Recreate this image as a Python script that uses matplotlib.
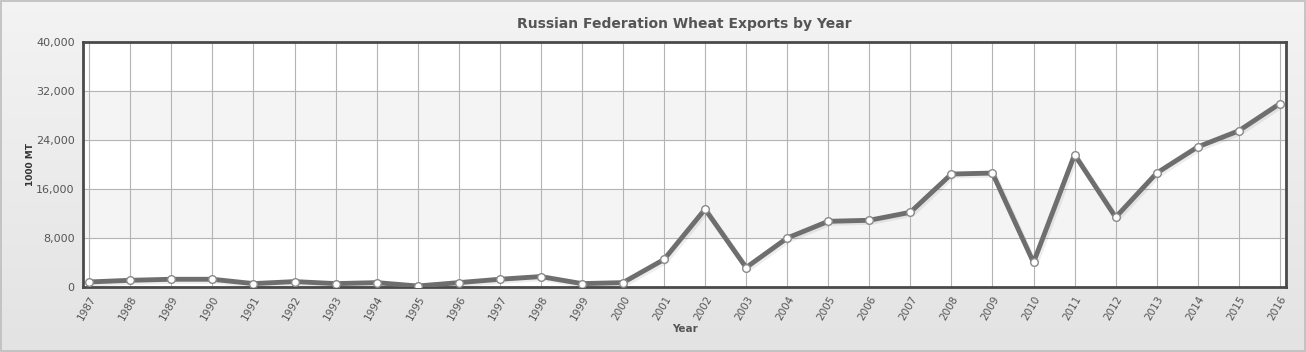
import numpy as np
import matplotlib
matplotlib.use("Agg")
import matplotlib.pyplot as plt
import matplotlib.patheffects as pe
from matplotlib.ticker import FuncFormatter

years = list(range(1987, 2017))
exports = [820, 1090, 1260, 1260, 550, 880, 550, 710, 160, 710,
           1260, 1700, 550, 710, 4490, 12700, 3170, 7990, 10720, 10890,
           12200, 18440, 18600, 4000, 21610, 11380, 18600, 22870, 25500, 29930]
y_ticks = [0, 8000, 16000, 24000, 32000, 40000]

fig = plt.figure(figsize=(13.06, 3.52), dpi=100)

# background gradient
bg = fig.add_axes([0, 0, 1, 1], zorder=-10)
grad = np.linspace(0.955, 0.89, 256).reshape(-1, 1)
bg.imshow(np.dstack([grad, grad, grad]), aspect="auto", extent=[0, 1, 0, 1])
bg.add_patch(plt.Rectangle((0.001, 0.002), 0.998, 0.995, fill=False,
                           edgecolor="#bdbdbd", linewidth=1.2))
bg.set_axis_off()

ax = fig.add_axes([0.0636, 0.1847, 0.9211, 0.696])
ax.set_facecolor("white")
ax.set_xlim(years[0] - 0.15, years[-1] + 0.15)
ax.set_ylim(0, 40000)

# alternating bands
for i in range(len(y_ticks) - 1):
    if i % 2 == 1:
        ax.axhspan(y_ticks[i], y_ticks[i + 1], color="#f4f4f4", zorder=0)

ax.set_xticks(years)
ax.set_yticks(y_ticks)
ax.grid(True, color="#b4b4b4", linewidth=0.8, zorder=1)
ax.set_axisbelow(True)

ax.plot(years, exports, color="#6e6e6e", linewidth=3.5, zorder=3,
        solid_joinstyle="round",
        path_effects=[pe.SimpleLineShadow(offset=(1.5, -1.5), shadow_color="#000000", alpha=0.07),
                      pe.Normal()])
ax.plot(years, exports, linestyle="none", marker="o", markersize=5.5,
        markerfacecolor="white", markeredgecolor="#8a8a8a", markeredgewidth=1, zorder=4)

for s in ax.spines.values():
    s.set_color("#4a4a4a")
    s.set_linewidth(2)

ax.yaxis.set_major_formatter(FuncFormatter(lambda v, p: f"{int(v):,}"))
ax.tick_params(axis="both", length=0, colors="#555555")
ax.tick_params(axis="y", pad=6, labelsize=8)
ax.tick_params(axis="x", pad=5, labelsize=7.5)
plt.setp(ax.get_xticklabels(), rotation=60, ha="right", va="top", rotation_mode="anchor")

ax.set_title("Russian Federation Wheat Exports by Year", fontsize=10, fontweight="bold",
             color="#555555", pad=10)
ax.set_xlabel("Year", fontsize=7.5, fontweight="bold", color="#555555")
ax.set_ylabel("1000 MT", fontsize=6.5, fontweight="bold", color="#333333")
ax.xaxis.set_label_coords(0.5, -0.152)
ax.yaxis.set_label_coords(-0.040, 0.5)

fig.savefig("out.png", dpi=100)
